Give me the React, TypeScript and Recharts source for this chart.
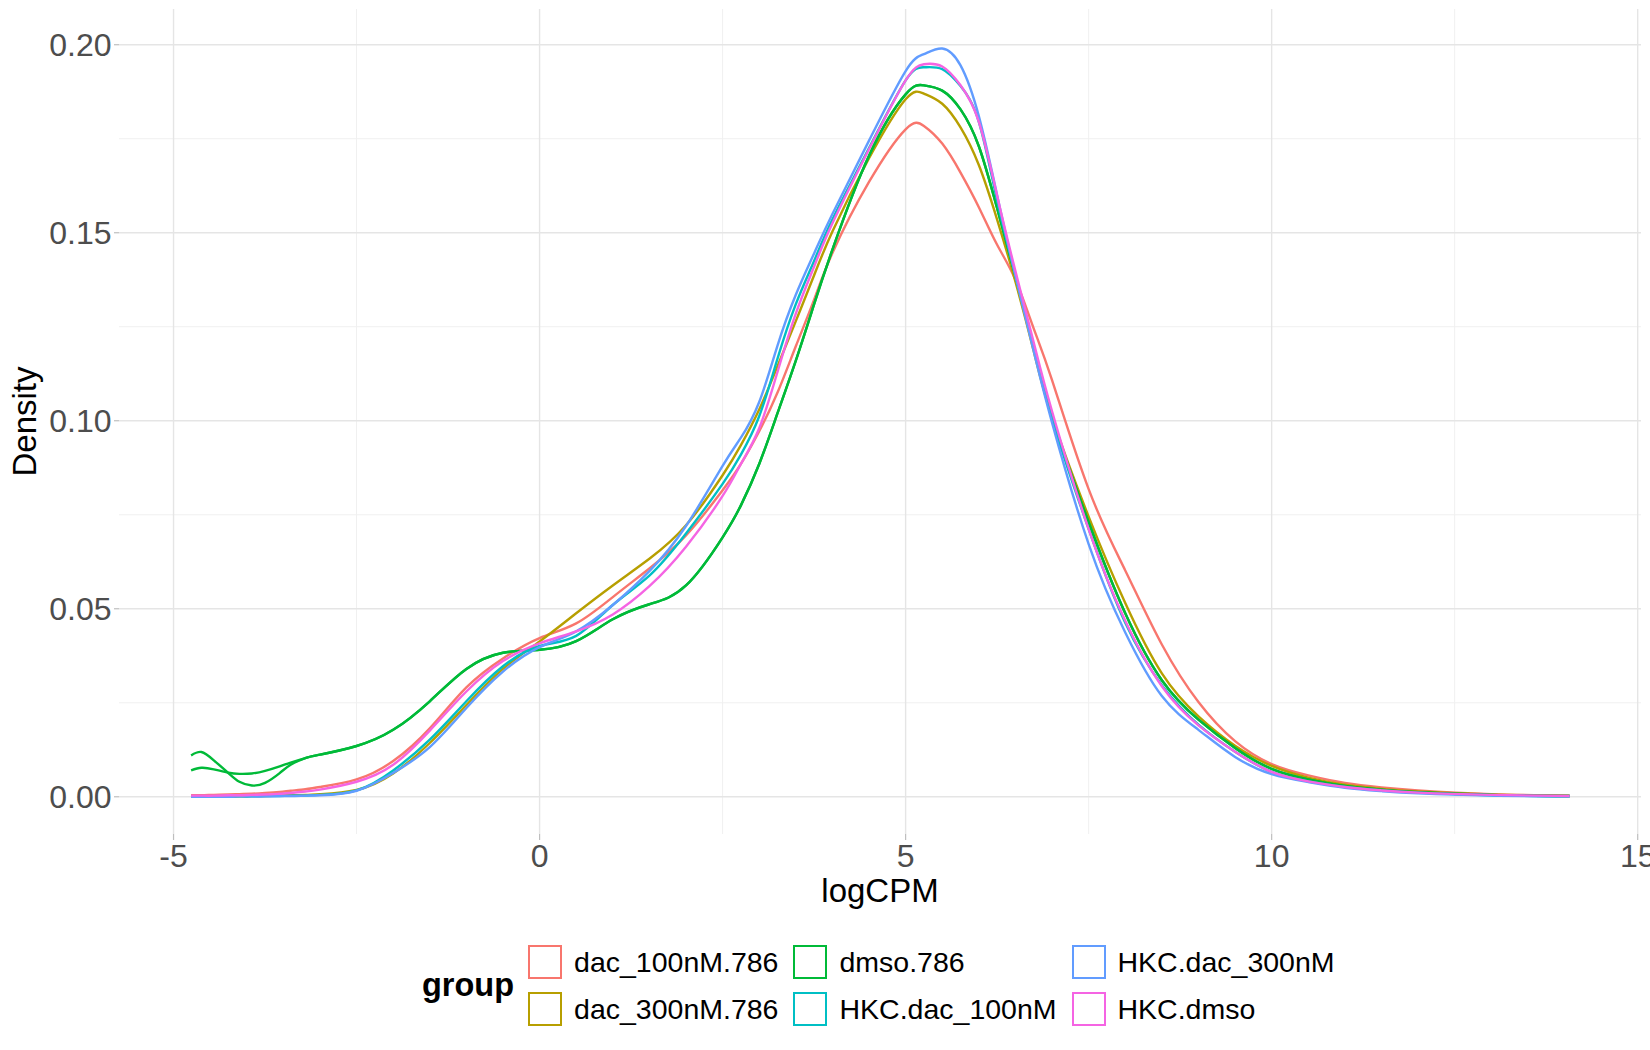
import React from 'react';
import { LineChart, Line, XAxis, YAxis, ReferenceLine, Label } from 'recharts';

const FONT = '"Liberation Sans", Arial, Helvetica, sans-serif';

// logCPM sample positions (x values of the density curves)
const logCPM = [
  -4.76, -4.62, -4.45, -4.25, -4.1, -3.93, -3.75, -3.55, -3.4, -3.2, -3.0, -2.5, -2.0, -1.5, -1.0, -0.5,
  0, 0.5, 1.0, 1.5, 2.0, 2.5,
  2.75, 3.0, 3.25, 3.5, 3.75, 4.0,
  4.5, 5.0, 5.25, 5.5, 5.75, 6.0, 6.25, 6.5, 6.75, 7.0,
  7.5, 8.0, 8.5, 9.0, 9.5, 10,
  10.5, 11, 11.5, 12, 13, 14.07,
];

const dac100 = [
  0.0004, 0.0004, 0.0005, 0.0006, 0.0007, 0.0008, 0.001, 0.0013, 0.0016, 0.002, 0.0026, 0.0046, 0.0095, 0.0182, 0.0291, 0.0368,
  0.0422, 0.0461, 0.0531, 0.0607, 0.0695, 0.0815,
  0.0885, 0.0972, 0.1075, 0.1198, 0.1322, 0.1446,
  0.1635, 0.1775, 0.1784, 0.1737, 0.166, 0.1568, 0.1468, 0.1375, 0.1245, 0.1108,
  0.0818, 0.0602, 0.0405, 0.0252, 0.0148, 0.0087,
  0.0057, 0.0037, 0.0025, 0.0017, 0.0007, 0.0003,
];

const dac300 = [
  0.0001, 0.0001, 0.0001, 0.0001, 0.0001, 0.0002, 0.0002, 0.0003, 0.0004, 0.0005, 0.0007, 0.0018, 0.0062, 0.0143, 0.0244, 0.034,
  0.0413, 0.0488, 0.0562, 0.0633, 0.0722, 0.0855,
  0.0935, 0.103, 0.1145, 0.1265, 0.1387, 0.1503,
  0.1698, 0.1855, 0.187, 0.1843, 0.178, 0.168, 0.1535, 0.137, 0.1185, 0.101,
  0.0745, 0.0515, 0.0328, 0.0214, 0.0136, 0.0082,
  0.0051, 0.0032, 0.0021, 0.0014, 0.0006, 0.0002,
];

const dmsoA = [
  0.011, 0.0119, 0.0097, 0.0063, 0.004, 0.003, 0.0037, 0.0063, 0.0085, 0.0103, 0.0112, 0.0135, 0.0178, 0.0254, 0.034, 0.0383,
  0.0391, 0.0414, 0.0472, 0.0512, 0.0562, 0.069,
  0.0775, 0.0885, 0.102, 0.116, 0.131, 0.1455,
  0.1705, 0.1868, 0.1892, 0.1878, 0.1828, 0.173, 0.1565, 0.1385, 0.1195, 0.101,
  0.073, 0.0488, 0.031, 0.0205, 0.013, 0.0074,
  0.0046, 0.0029, 0.0019, 0.0012, 0.0005, 0.0002,
];

const dmsoB = [
  0.007, 0.0077, 0.0073, 0.0064, 0.0061, 0.0062, 0.0069, 0.0081, 0.0091, 0.0103, 0.0112, 0.0135, 0.0178, 0.0254, 0.034, 0.0383,
  0.0391, 0.0414, 0.0472, 0.0512, 0.0562, 0.069,
  0.0775, 0.0885, 0.102, 0.116, 0.131, 0.1455,
  0.1705, 0.1868, 0.1892, 0.1878, 0.1828, 0.173, 0.1565, 0.1385, 0.1195, 0.101,
  0.073, 0.0488, 0.031, 0.0205, 0.013, 0.0074,
  0.0046, 0.0029, 0.0019, 0.0012, 0.0005, 0.0002,
];

const hkc100 = [
  0.0001, 0.0001, 0.0001, 0.0001, 0.0001, 0.0001, 0.0002, 0.0002, 0.0003, 0.0003, 0.0005, 0.0017, 0.007, 0.0152, 0.0254, 0.0347,
  0.0401, 0.0428, 0.051, 0.0588, 0.07, 0.0832,
  0.091, 0.1012, 0.1165, 0.131, 0.1425, 0.1535,
  0.1725, 0.1905, 0.194, 0.1935, 0.189, 0.1795, 0.1585, 0.1388, 0.1195, 0.1005,
  0.0712, 0.0463, 0.0297, 0.0192, 0.012, 0.0066,
  0.0041, 0.0026, 0.0017, 0.0011, 0.0004, 0.0001,
];

const hkc300 = [
  0.0, 0.0, 0.0, 0.0, 0.0001, 0.0001, 0.0001, 0.0002, 0.0002, 0.0003, 0.0004, 0.0016, 0.0063, 0.0132, 0.0236, 0.0333,
  0.0398, 0.044, 0.051, 0.06, 0.072, 0.088,
  0.0955, 0.105, 0.12, 0.1335, 0.1445, 0.155,
  0.1745, 0.193, 0.1975, 0.199, 0.1945, 0.181, 0.16, 0.1385, 0.1185, 0.0995,
  0.0672, 0.0437, 0.0268, 0.0178, 0.0106, 0.006,
  0.0039, 0.0024, 0.0015, 0.0009, 0.0003, 0.0001,
];

const hkcDmso = [
  0.0003, 0.0003, 0.0003, 0.0004, 0.0004, 0.0005, 0.0006, 0.0008, 0.001, 0.0014, 0.0019, 0.004, 0.0085, 0.0176, 0.028, 0.0361,
  0.0408, 0.044, 0.0485, 0.056, 0.0665, 0.08,
  0.0885, 0.098, 0.113, 0.1285, 0.141, 0.1525,
  0.1722, 0.1905, 0.1948, 0.1942, 0.1892, 0.1795, 0.1598, 0.1398, 0.1208, 0.1025,
  0.0712, 0.0468, 0.0294, 0.019, 0.012, 0.0066,
  0.0041, 0.0026, 0.0017, 0.0011, 0.0005, 0.0002,
];

const groups = ['dac_100nM.786', 'dac_300nM.786', 'dmso.786', 'HKC.dac_100nM', 'HKC.dac_300nM', 'HKC.dmso'];
const groupColors = ['#F8766D', '#B79F00', '#00BA38', '#00BFC4', '#619CFF', '#F564E3'];

const curves = [
  { id: 'c1', group: 0, values: dac100 },
  { id: 'c2', group: 1, values: dac300 },
  { id: 'c3a', group: 2, values: dmsoA },
  { id: 'c3b', group: 2, values: dmsoB },
  { id: 'c4', group: 3, values: hkc100 },
  { id: 'c5', group: 4, values: hkc300 },
  { id: 'c6', group: 5, values: hkcDmso },
];

const xTicks = [-5, 0, 5, 10, 15];
const yTicks = [0, 0.05, 0.1, 0.15, 0.2];
const xMinor = [-2.5, 2.5, 7.5, 12.5];
const yMinor = [0.025, 0.075, 0.125, 0.175];

const data = logCPM.map((x, i) => {
  const row: Record<string, number> = { x };
  curves.forEach((c) => {
    row[c.id] = c.values[i];
  });
  return row;
});

const tickStyle = { fontSize: 32, fill: '#4D4D4D', fontFamily: FONT };

const DensityLabel = (props: any) => {
  const vb = props.viewBox || { x: 0, y: 0, width: 0, height: 0 };
  const cx = vb.x + 36;
  const cy = vb.y + vb.height / 2;
  return (
    <text
      x={cx}
      y={cy}
      transform={`rotate(-90, ${cx}, ${cy})`}
      textAnchor="middle"
      fontSize={33}
      fill="#000000"
      fontFamily={FONT}
    >
      Density
    </text>
  );
};

export default function App() {
  return (
    <div style={{ position: 'absolute', left: 0, top: 0, width: 1650, height: 1050, background: '#fff', fontFamily: FONT }}>
      <LineChart
        width={1650}
        height={1050}
        data={data}
        margin={{ top: 9, right: 9, bottom: 146, left: 0 }}
        style={{ fontFamily: FONT }}
      >
        {xMinor.map((v) => (
          <ReferenceLine key={'xm' + v} x={v} stroke="#F0F0F0" strokeWidth={1} />
        ))}
        {yMinor.map((v) => (
          <ReferenceLine key={'ym' + v} y={v} stroke="#F0F0F0" strokeWidth={1} />
        ))}
        {xTicks.map((v) => (
          <ReferenceLine key={'xM' + v} x={v} stroke="#E5E5E5" strokeWidth={1.4} />
        ))}
        {yTicks.map((v) => (
          <ReferenceLine key={'yM' + v} y={v} stroke="#E5E5E5" strokeWidth={1.4} />
        ))}
        <XAxis
          dataKey="x"
          type="number"
          domain={[-5.745, 15.045]}
          allowDataOverflow
          ticks={xTicks}
          interval={0}
          tick={tickStyle}
          tickLine={{ stroke: '#BEBEBE', strokeWidth: 1.2 }}
          axisLine={false}
          tickSize={6}
          tickMargin={4}
          height={70}
        >
          <Label value="logCPM" position="insideBottom" offset={2} fontSize={33} fill="#000000" fontFamily={FONT} />
        </XAxis>
        <YAxis
          type="number"
          domain={[-0.0099, 0.2095]}
          allowDataOverflow
          ticks={yTicks}
          interval={0}
          tickFormatter={(v: number) => v.toFixed(2)}
          tick={tickStyle}
          tickLine={{ stroke: '#BEBEBE', strokeWidth: 1.2 }}
          axisLine={false}
          tickSize={5}
          tickMargin={2.5}
          width={119}
        >
          <Label content={DensityLabel} />
        </YAxis>
        {curves.map((c) => (
          <Line
            key={c.id}
            dataKey={c.id}
            name={groups[c.group]}
            type="natural"
            stroke={groupColors[c.group]}
            strokeWidth={2.4}
            dot={false}
            activeDot={false}
            isAnimationActive={false}
          />
        ))}
      </LineChart>
      <div
        style={{
          position: 'absolute',
          left: 422,
          top: 945,
          display: 'flex',
          alignItems: 'center',
          fontFamily: FONT,
          color: '#000',
        }}
      >
        <div style={{ fontWeight: 'bold', fontSize: 32.5, lineHeight: 1, marginRight: 14 }}>group</div>
        <div
          style={{
            display: 'grid',
            gridTemplateRows: '34px 34px',
            gridAutoFlow: 'column',
            rowGap: 13,
            columnGap: 15,
          }}
        >
          {groups.map((g, i) => (
            <div key={g} style={{ display: 'flex', alignItems: 'center', height: 34 }}>
              <div
                style={{
                  width: 34,
                  height: 34,
                  boxSizing: 'border-box',
                  border: `2px solid ${groupColors[i]}`,
                }}
              />
              <span style={{ marginLeft: 12, fontSize: 28.5, lineHeight: 1, whiteSpace: 'nowrap' }}>{g}</span>
            </div>
          ))}
        </div>
      </div>
    </div>
  );
}
